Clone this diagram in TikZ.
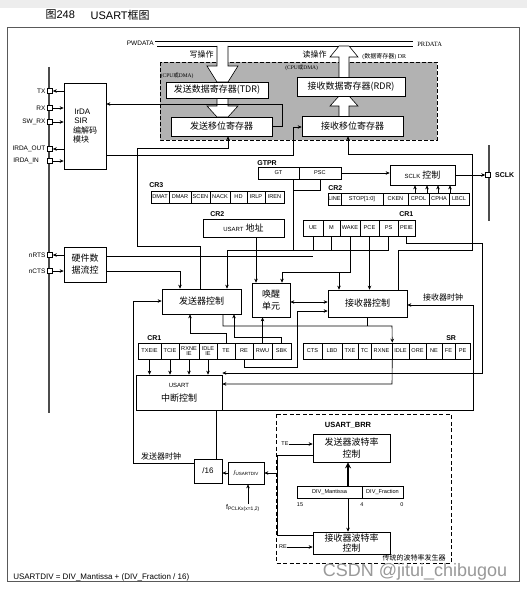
\documentclass[tikz,border=0pt]{standalone}
\usepackage{fontspec}
\setmainfont{Liberation Sans}
\newfontfamily\zhfont{Noto Sans CJK SC}
\newfontfamily\serifont{Liberation Serif}
\usepackage{tikz}
\usetikzlibrary{arrows.meta, positioning}
\tikzstyle{blk} = [rectangle, draw, fill=white, inner sep=1pt, align=center,
  font=\zhfont\fontsize{9}{12}\selectfont]
\tikzstyle{cell} = [rectangle, draw, fill=white, inner sep=0pt, align=center, minimum height=12pt,
  font=\fontsize{5.6}{5.6}\selectfont]
\tikzstyle{cellhi} = [cell, minimum height=16pt]
\tikzstyle{pin} = [rectangle, draw, fill=white, minimum size=5pt, inner sep=0pt]
\tikzstyle{reg} = [inner sep=0pt, font=\bfseries\fontsize{7}{8}\selectfont]
\tikzstyle{lbl} = [inner sep=0pt, font=\fontsize{6.5}{7}\selectfont]
\tikzstyle{zhlbl} = [inner sep=0pt, font=\zhfont\fontsize{8}{9}\selectfont]
\tikzstyle{arrow} = [-{Stealth[length=4pt,width=3.5pt]}]

\begin{document}
\begin{tikzpicture}[x=1pt, y=-1pt, line width=0.6pt]
  \useasboundingbox (0,0) rectangle (527,591);
  \fill[white] (0,0) rectangle (527,591);
  \fill[black!7] (0,0) rectangle (527,8);

  \node (t1) [anchor=west, font=\fontsize{11}{12}\selectfont] at (42,15) {{\zhfont 图}248};
  \node (t2) [anchor=west, font=\fontsize{11}{12}\selectfont] at (87,15) {USART{\zhfont 框图}};
  \draw[black!65, line width=0.8pt] (7,27) rectangle (519,581);

  % data registers
  \draw[dash pattern=on 4pt off 2pt, fill=black!30] (160,62) rectangle (437,140);
  \draw (155,41) -- (413,41);
  \draw (157,46) -- (217,46);
  \draw (228,46) -- (339,46);
  \draw (349,46) -- (413,46);
  \filldraw[fill=white] (217,46) -- (217,66) -- (207,66) -- (217,82) -- (228,82) -- (238,66) -- (228,66) -- (228,46);
  \filldraw[fill=white] (217,98) -- (217,106) -- (207,106) -- (217,117) -- (228,117) -- (238,106) -- (228,106) -- (228,98);
  \filldraw[fill=white] (339,116) -- (339,106) -- (330,106) -- (339,96) -- (349,96) -- (358,106) -- (349,106) -- (349,116);
  \filldraw[fill=white] (339,77) -- (339,57) -- (330,57) -- (339,46) -- (349,46) -- (358,57) -- (349,57) -- (349,77);

  \node (pwd) [lbl, anchor=east] at (154,43) {PWDATA};
  \node (prd) [lbl, anchor=west, font=\serifont\fontsize{6.5}{7}\selectfont] at (417,44) {PRDATA};
  \node (wr) [zhlbl, anchor=east] at (214,54) {写操作};
  \node (rd) [zhlbl, anchor=east] at (327,54) {读操作};
  \node (dr) [lbl, anchor=west, font=\serifont\fontsize{6}{7}\selectfont] at (362,57) {({\zhfont 数据寄存器}) DR};
  \node (cpu1) [lbl, anchor=west, font=\serifont\fontsize{5.5}{6}\selectfont] at (160.5,76) {(CPU{\zhfont 或}DMA)};
  \node (cpu2) [lbl, anchor=west, font=\serifont\fontsize{5.5}{6}\selectfont] at (285,68) {(CPU{\zhfont 或}DMA)};

  \node (tdr) [blk, minimum width=102pt, minimum height=16pt] at (217,90) {发送数据寄存器(TDR)};
  \node (tsr) [blk, minimum width=101pt, minimum height=19pt] at (221.5,126.5) {发送移位寄存器};
  \node (rdr) [blk, minimum width=108pt, minimum height=19pt] at (351,86.5) {接收数据寄存器(RDR)};
  \node (rsr) [blk, minimum width=101pt, minimum height=20pt] at (352.5,126) {接收移位寄存器};

  % pins
  \draw[black!70, line width=2pt] (49,67) -- (49,413);
  \draw[black!70, line width=1.2pt] (489,145) -- (489,221);
  \node (tx) [pin] at (50,91) {};
  \node (rx) [pin] at (50,108) {};
  \node (swrx) [pin] at (50,122) {};
  \node (irout) [pin] at (50,149) {};
  \node (irin) [pin] at (50,161) {};
  \node (nrts) [pin] at (50,255) {};
  \node (ncts) [pin] at (50,271) {};
  \node (sclkpin) [pin] at (488,175) {};
  \node [lbl, left=1.5pt of tx] {TX};
  \node [lbl, left=1.5pt of rx] {RX};
  \node [lbl, left=1.5pt of swrx] {SW\_RX};
  \node [lbl, left=1.5pt of irout] {IRDA\_OUT};
  \node [lbl, left=8pt of irin] {IRDA\_IN};
  \node [lbl, left=1.5pt of nrts] {nRTS};
  \node [lbl, left=1.5pt of ncts] {nCTS};
  \node [reg, right=4pt of sclkpin] {SCLK};

  \node (irda) [blk, minimum width=42pt, minimum height=86pt, align=left, font=\fontsize{8}{9.5}\selectfont] at (85,126)
    {\,IrDA\\\,SIR\\{\zhfont 编解码}\\{\zhfont 模块}};
  \node (hwfc) [blk, minimum width=42pt, minimum height=35pt] at (85,264.5) {硬件数\\据流控};

  \draw[arrow] (tx -| irda.west) -- (tx.east);
  \draw[arrow] (rx.east) -- (rx -| irda.west);
  \draw[arrow] (swrx.east) -- (swrx -| irda.west);
  \draw[arrow] (irout -| irda.west) -- (irout.east);
  \draw[arrow] (irin.east) -- (irin -| irda.west);
  \draw[arrow] (nrts -| hwfc.west) -- (nrts.east);
  \draw[arrow] (ncts.east) -- (ncts -| hwfc.west);

  % GTPR and SCLK
  \node (gtpr) [reg, anchor=west] at (257,163) {GTPR};
  \node (gt) [cell, minimum width=41pt] at (278.5,173) {GT};
  \node (psc) [cell, minimum width=42pt] at (320,173) {PSC};
  \node (sclk) [blk, minimum width=65pt, minimum height=20pt] at (422.5,175) {{\rmfamily\fontsize{6}{7}\selectfont SCLK} 控制};
  \draw[arrow] (psc.east) -- (psc.east -| sclk.west);
  \draw[arrow] (sclk.east) -- (sclkpin.west);

  % CR3
  \node (cr3) [reg, anchor=west] at (149,185) {CR3};
  \node (dmat) [cell, minimum width=18pt] at (160,197) {DMAT};
  \node (dmar) [cell, minimum width=22pt] at (180,197) {DMAR};
  \node (scen) [cell, minimum width=19pt] at (200.5,197) {SCEN};
  \node (nack) [cell, minimum width=20pt] at (220,197) {NACK};
  \node (hd) [cell, minimum width=17pt] at (238.5,197) {HD};
  \node (irlp) [cell, minimum width=18pt] at (256,197) {IRLP};
  \node (iren) [cell, minimum width=19pt] at (274.5,197) {IREN};

  % CR2
  \node (cr2a) [reg, anchor=west] at (328,188) {CR2};
  \node (line) [cell, minimum width=13pt] at (334.5,199) {LINE};
  \node (stop) [cell, minimum width=42pt] at (362,199) {STOP[1:0]};
  \node (cken) [cell, minimum width=25pt] at (395.5,199) {CKEN};
  \node (cpol) [cell, minimum width=21pt] at (418.5,199) {CPOL};
  \node (cpha) [cell, minimum width=20pt] at (439,199) {CPHA};
  \node (lbcl) [cell, minimum width=20pt] at (459,199) {LBCL};
  \draw[arrow] (cken.north -| 415,0) -- (sclk.south -| 415,0);
  \draw[arrow] (cpol.north -| 427,0) -- (sclk.south -| 427,0);
  \draw[arrow] (cpha.north -| 438,0) -- (sclk.south -| 438,0);
  \draw[arrow] (lbcl.north -| 450,0) -- (sclk.south -| 450,0);

  \node (cr2b) [reg, anchor=west] at (210,214) {CR2};
  \node (addr) [blk, minimum width=81pt, minimum height=18pt] at (243.5,228) {{\rmfamily\fontsize{6}{7}\selectfont USART} 地址};

  % CR1 (upper)
  \node (cr1a) [reg, anchor=west] at (399,214) {CR1};
  \node (ue) [cellhi, minimum width=20pt] at (313,228) {UE};
  \node (mm) [cellhi, minimum width=17pt] at (331.5,228) {M};
  \node (wake) [cellhi, minimum width=20pt] at (350,228) {WAKE};
  \node (pce) [cellhi, minimum width=19pt] at (369.5,228) {PCE};
  \node (ps) [cellhi, minimum width=19pt] at (388.5,228) {PS};
  \node (peie) [cellhi, minimum width=17pt] at (406.5,228) {PEIE};

  % control units
  \node (txc) [blk, minimum width=79pt, minimum height=25pt] at (201.5,301.5) {发送器控制};
  \node (wku) [blk, minimum width=38pt, minimum height=34pt] at (271,300) {唤醒\\单元};
  \node (rxc) [blk, minimum width=79pt, minimum height=27pt] at (367.5,303.5) {接收器控制};
  \node (rxclk) [zhlbl] at (443,297) {接收器时钟};

  % CR1 (lower) and SR
  \node (cr1b) [reg, anchor=west] at (147,338) {CR1};
  \node (txeie) [cellhi, minimum width=23pt] at (149.5,351) {TXEIE};
  \node (tcie) [cellhi, minimum width=18pt] at (170,351) {TCIE};
  \node (rxneie) [cellhi, minimum width=20pt] at (189,351) {RXNE\\IE};
  \node (idleie) [cellhi, minimum width=18pt] at (208,351) {IDLE\\IE};
  \node (te) [cellhi, minimum width=18pt] at (226,351) {TE};
  \node (re) [cellhi, minimum width=18pt] at (244,351) {RE};
  \node (rwu) [cellhi, minimum width=19pt] at (262.5,351) {RWU};
  \node (sbk) [cellhi, minimum width=19pt] at (281.5,351) {SBK};

  \node (sr) [reg, anchor=west] at (446,338) {SR};
  \node (cts) [cellhi, minimum width=19pt] at (312.5,351) {CTS};
  \node (lbd) [cellhi, minimum width=20pt] at (332,351) {LBD};
  \node (txe) [cellhi, minimum width=16pt] at (350,351) {TXE};
  \node (tc) [cellhi, minimum width=13pt] at (364.5,351) {TC};
  \node (rxne) [cellhi, minimum width=21pt] at (381.5,351) {RXNE};
  \node (idle) [cellhi, minimum width=17pt] at (400.5,351) {IDLE};
  \node (ore) [cellhi, minimum width=17pt] at (417.5,351) {ORE};
  \node (ne) [cellhi, minimum width=16pt] at (434,351) {NE};
  \node (fe) [cellhi, minimum width=13pt] at (448.5,351) {FE};
  \node (pe) [cellhi, minimum width=15pt] at (462.5,351) {PE};

  \node (itc) [blk, minimum width=86pt, minimum height=35pt] at (179,392.5)
    {{\rmfamily\fontsize{6}{7}\selectfont USART}\\[2pt]中断控制};

  % clock
  \node (div16) [blk, minimum width=28pt, minimum height=24pt, font=\fontsize{8}{9}\selectfont] at (208,471) {/16};
  \node (udiv) [blk, minimum width=36pt, minimum height=22pt, font=\fontsize{4.5}{5}\selectfont] at (246,473) {{\fontsize{7}{8}\selectfont/}USARTDIV};
  \node (fpclk) [lbl, font=\fontsize{7}{8}\selectfont] at (243,508) {f\textsubscript{PCLKx(x=1,2)}};
  \node (txclk) [zhlbl] at (161,456) {发送器时钟};

  % baud rate generator
  \draw[dash pattern=on 4pt off 2.5pt] (276,414) rectangle (451,563);
  \node (brr) [reg, font=\bfseries\fontsize{7.5}{8}\selectfont] at (348,425) {USART\_BRR};
  \node (txbaud) [blk, minimum width=77pt, minimum height=28pt] at (351.5,448) {发送器波特率\\控制};
  \node (rxbaud) [blk, minimum width=77pt, minimum height=22pt, font=\zhfont\fontsize{9}{10.5}\selectfont] at (351.5,543) {接收器波特率\\控制};
  \node (mant) [cell, minimum width=65pt] at (329.5,492) {DIV\_Mantissa};
  \node (frac) [cell, minimum width=41pt] at (382.5,492) {DIV\_Fraction};
  \node (b15) [lbl, font=\fontsize{5.5}{6}\selectfont] at (300,505) {15};
  \node (b4) [lbl, font=\fontsize{5.5}{6}\selectfont] at (362,505) {4};
  \node (b0) [lbl, font=\fontsize{5.5}{6}\selectfont] at (402,505) {0};
  \node (tel) [lbl, font=\fontsize{5.5}{6}\selectfont] at (285,444) {TE};
  \node (rel) [lbl, font=\fontsize{5.5}{6}\selectfont] at (283,547) {RE};
  \node (trad) [zhlbl, anchor=east, font=\zhfont\fontsize{7}{8}\selectfont] at (446,558) {传统的波特率发生器};

  \node (formula) [anchor=west, inner sep=0pt, font=\fontsize{8}{9}\selectfont] at (13,577) {USARTDIV = DIV\_Mantissa + (DIV\_Fraction / 16)};
  \node (mark) [inner sep=0pt, text=black!40, font=\fontsize{18}{20}\selectfont] at (415,572) {CSDN @jitui\_chibugou};

  % data paths
  \draw[arrow] (tsr.east) -- (282,126.5) -- (282,104) -- (irda.east |- 0,104);
  \draw[arrow] (irda.east |- 0,155) -- (293,155) -- (293,127) -- (rsr.west |- 0,127);
  \draw[arrow] (txc.north -| 200,0) -- (200,246) -- (137,246) -- (137,148) -- (228,148) -- (tsr.south -| 228,0);
  \draw[arrow] (rxc.north -| 398,0) -- (398,250) -- (472,250) -- (472,154) -- (348,154) -- (rsr.south -| 348,0);

  % control bits
  \draw (gt.south -| 293,0) -- (293,250);
  \draw (psc.south) -- (320,190) -- (293,190);
  \draw (ue.south) -- (313,250);
  \draw (mm.south) -- (331.5,250);
  \draw (ps.south) -- (388.5,250);
  \draw (227,250) -- (388.5,250);
  \draw[arrow] (227,250) -- (txc.north -| 227,0);
  \draw[arrow] (wake.south) -- (350,272) -- (282,272) -- (wku.north -| 282,0);
  \draw[arrow] (339,272) -- (rxc.north -| 339,0);
  \draw[arrow] (pce.south) -- (rxc.north -| pce.south);
  \draw[arrow] (peie.south) -- (406.5,243) -- (482,243) -- (482,373) -- (itc.east |- 0,373);
  \draw[arrow] (addr.south -| 256,0) -- (wku.north -| 256,0);
  \draw (hwfc.east |- 0,256) -- (313,256);
  \draw[arrow] (hwfc.east |- 0,271) -- (180,271) -- (txc.north -| 180,0);
  \draw[{Stealth[length=4pt,width=3.5pt]}-{Stealth[length=4pt,width=3.5pt]}] (wku.east |- 0,302) -- (rxc.west |- 0,302);
  \draw[arrow] (re.south) -- (244,367) -- (297,367) -- (297,311) -- (rxc.west |- 0,311);
  \draw[arrow] (te.north) -- (226,333) -- (190,333) -- (txc.south -| 190,0);
  \draw[arrow] (sbk.north) -- (281.5,337) -- (234,337) -- (txc.south -| 234,0);
  \draw[arrow] (rwu.north) -- (wku.south -| rwu.north);
  \draw[arrow] (txc.south -| 223,0) -- (223,326) -- (392,326) -- (rxne.north east);
  \draw (rxc.south) -- (367.5,326);
  \draw[arrow] (rxne.south east) -- (392,384) -- (itc.east |- 0,384);
  \draw[arrow] (txeie.south) -- (itc.north -| txeie.south);
  \draw[arrow] (tcie.south) -- (itc.north -| tcie.south);
  \draw[arrow] (rxneie.south) -- (itc.north -| rxneie.south);
  \draw[arrow] (idleie.south) -- (itc.north -| idleie.south);

  % clocks
  \draw[arrow] (div16.west |- 0,463) -- (133,463) -- (133,301) -- (txc.west |- 0,301);
  \draw[arrow] (div16.north -| 216,0) -- (216,410) -- (473,410) -- (473,305) -- (rxc.east |- 0,305);
  \draw[arrow] (udiv.west) -- (udiv.west -| div16.east);
  \draw[arrow] (fpclk.north -| 248,0) -- (udiv.south -| 248,0);
  \draw (txbaud.west |- 0,455) -- (277,455) -- (277,535) -- (rxbaud.west |- 0,535);
  \draw[arrow] (277,473) -- (udiv.east);
  \draw[arrow] (tel.east) -- (txbaud.west |- tel.east);
  \draw[arrow] (rel.east) -- (rxbaud.west |- rel.east);
  \draw[-{Stealth[length=6pt,width=6pt]}, line width=1.6pt] (mant.north -| 348,0) -- (txbaud.south -| 348,0);
  \draw[arrow] (mant.south -| 348,0) -- (rxbaud.north -| 348,0);
\end{tikzpicture}
\end{document}
